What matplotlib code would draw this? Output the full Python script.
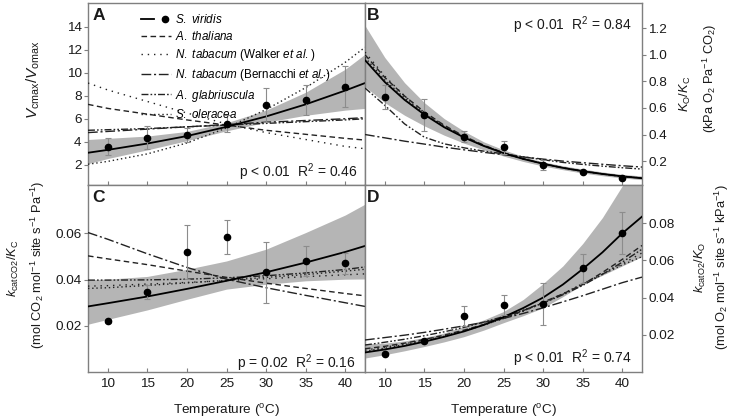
import matplotlib
matplotlib.use("Agg")
import matplotlib.pyplot as plt
from matplotlib.legend_handler import HandlerTuple
from matplotlib.lines import Line2D

plt.rcParams['font.family'] = ['Liberation Sans', 'DejaVu Sans']
plt.rcParams['mathtext.fontset'] = 'custom'
plt.rcParams['mathtext.rm'] = 'Liberation Sans'
plt.rcParams['mathtext.it'] = 'Liberation Sans:italic'
plt.rcParams['mathtext.bf'] = 'Liberation Sans:bold'

# temperatures
temp = [10, 15, 20, 25, 30, 35, 40]  # measured points
tfit = [7.5, 10, 15, 20, 25, 30, 35, 40, 42.5]  # curves read every 5 degrees (A, C)
tfine = [7.5, 10, 12.5, 15, 17.5, 20, 22.5, 25, 27.5, 30, 32.5, 35, 37.5, 40, 42.5]  # B, D

# A: Vcmax/Vomax
a_pts = [3.59, 4.35, 4.6, 5.56, 7.2, 7.64, 8.8]
a_err = [0.77, 1.0, 0.6, 0.75, 1.45, 1.3, 1.75]
a_fit = [3.05, 3.3, 3.85, 4.5, 5.3, 6.2, 7.25, 8.45, 9.1]
a_lo = [2.1, 2.55, 3.3, 4.1, 4.95, 5.7, 6.3, 6.75, 6.9]
a_hi = [4.2, 4.3, 4.5, 4.9, 5.65, 6.75, 8.3, 10.3, 11.6]
a_thal = [7.25, 6.9, 6.4, 5.9, 5.45, 5.0, 4.65, 4.3, 4.15]
a_walk = [9.1, 8.5, 7.5, 6.5, 5.55, 4.8, 4.2, 3.6, 3.4]
a_bern = [4.8, 4.9, 5.1, 5.3, 5.5, 5.7, 5.85, 6.0, 6.1]
a_glab = [5.0, 5.05, 5.15, 5.3, 5.45, 5.6, 5.75, 5.9, 6.0]
a_oler = [2.05, 2.3, 2.95, 3.9, 5.2, 6.8, 8.7, 10.9, 12.2]

# B: Ko/Kc
b_pts = [0.685, 0.547, 0.383, 0.303, 0.17, 0.12, 0.074]
b_err = [0.09, 0.12, 0.04, 0.05, 0.035, 0.01, 0.01]
b_fit = [0.96, 0.795, 0.661, 0.55, 0.455, 0.378, 0.314, 0.26, 0.216, 0.18, 0.149, 0.124, 0.103, 0.085, 0.071]
b_lo = [0.76, 0.64, 0.545, 0.465, 0.395, 0.335, 0.285, 0.238, 0.197, 0.163, 0.135, 0.11, 0.09, 0.073, 0.06]
b_hi = [1.22, 0.98, 0.79, 0.64, 0.52, 0.425, 0.345, 0.285, 0.235, 0.195, 0.165, 0.14, 0.118, 0.1, 0.088]
b_thal = [1.0, 0.83, 0.69, 0.57, 0.47, 0.388, 0.32, 0.263, 0.218, 0.181, 0.15, 0.125, 0.104, 0.086, 0.072]
b_walk = [1.02, 0.84, 0.69, 0.565, 0.465, 0.382, 0.316, 0.26, 0.216, 0.179, 0.148, 0.123, 0.102, 0.085, 0.071]
b_bern = [0.40, 0.375, 0.35, 0.328, 0.305, 0.285, 0.266, 0.248, 0.231, 0.215, 0.2, 0.188, 0.176, 0.165, 0.155]
b_glab = [0.75, 0.62, 0.48, 0.38, 0.33, 0.3, 0.275, 0.255, 0.232, 0.21, 0.19, 0.175, 0.162, 0.15, 0.14]
b_oler = [0.98, 0.81, 0.675, 0.555, 0.46, 0.38, 0.315, 0.26, 0.216, 0.18, 0.149, 0.124, 0.103, 0.085, 0.071]

# C: kcatCO2/Kc
c_pts = [0.0221, 0.0347, 0.052, 0.0585, 0.0431, 0.0481, 0.047]
c_err = [0.001, 0.003, 0.0116, 0.0074, 0.0133, 0.0065, 0.0045]
c_fit = [0.0284, 0.0298, 0.0327, 0.036, 0.0395, 0.0432, 0.0474, 0.052, 0.0546]
c_lo = [0.0207, 0.0228, 0.0269, 0.0315, 0.0359, 0.038, 0.0395, 0.0402, 0.0403]
c_hi = [0.040, 0.0402, 0.0414, 0.0445, 0.0481, 0.0532, 0.0604, 0.068, 0.0727]
c_thal = [0.0503, 0.049, 0.0465, 0.0437, 0.041, 0.0385, 0.0362, 0.034, 0.033]
c_walk = [0.0372, 0.0374, 0.0381, 0.0388, 0.0396, 0.0404, 0.0413, 0.0421, 0.0425]
c_bern = [0.0604, 0.0575, 0.0512, 0.0453, 0.0402, 0.0365, 0.0332, 0.030, 0.0284]
c_glab = [0.0398, 0.0398, 0.0399, 0.0402, 0.0408, 0.0417, 0.0429, 0.0444, 0.0455]
c_oler = [0.0362, 0.0365, 0.0375, 0.0386, 0.0397, 0.041, 0.0422, 0.0437, 0.0445]

# D: kcatO2/Ko
d_pts = [0.0098, 0.0164, 0.0302, 0.0361, 0.0366, 0.0558, 0.0746]
d_err = [0.0008, 0.001, 0.0054, 0.0055, 0.0115, 0.0077, 0.0113]
d_fit = [0.0105, 0.0121, 0.014, 0.0163, 0.0189, 0.0218, 0.0253, 0.0295, 0.0344, 0.040, 0.047, 0.0553, 0.0643, 0.0745, 0.0835]
d_lo = [0.0075, 0.0093, 0.0114, 0.0137, 0.0162, 0.019, 0.0225, 0.0265, 0.0303, 0.0345, 0.0405, 0.047, 0.052, 0.057, 0.062]
d_hi = [0.0152, 0.0155, 0.0167, 0.0185, 0.021, 0.0245, 0.028, 0.0325, 0.039, 0.0475, 0.057, 0.069, 0.083, 0.100, 0.118]
d_thal = [0.0125, 0.0138, 0.0155, 0.0175, 0.0198, 0.0225, 0.0255, 0.029, 0.033, 0.0375, 0.042, 0.047, 0.0535, 0.0605, 0.068]
d_walk = [0.0118, 0.0133, 0.0151, 0.0172, 0.0195, 0.0222, 0.0253, 0.0288, 0.0327, 0.037, 0.0418, 0.047, 0.0525, 0.058, 0.064]
d_bern = [0.0172, 0.0185, 0.0198, 0.0213, 0.023, 0.0248, 0.0267, 0.0288, 0.0315, 0.0345, 0.0377, 0.041, 0.0445, 0.048, 0.051]
d_glab = [0.0145, 0.016, 0.0176, 0.0195, 0.0216, 0.024, 0.0268, 0.0298, 0.0332, 0.037, 0.0415, 0.0465, 0.0525, 0.059, 0.066]
d_oler = [0.0112, 0.0128, 0.0147, 0.0168, 0.0192, 0.022, 0.0252, 0.0288, 0.0328, 0.0372, 0.042, 0.0475, 0.0525, 0.0575, 0.062]

names = [r"$\mathit{S.\ viridis}$",
         r"$\mathit{A.\ thaliana}$",
         r"$\mathit{N.\ tabacum}$ (Walker $\mathit{et\ al.}$)",
         r"$\mathit{N.\ tabacum}$ (Bernacchi $\mathit{et\ al.}$)",
         r"$\mathit{A.\ glabriuscula}$",
         r"$\mathit{S.\ oleracea}$"]
dashes = [(0, (4, 2.5)), (0, (1, 3.5)), (0, (7, 2, 1.5, 2)), (0, (5, 1.5, 1.2, 1.5, 1.2, 1.5)), (0, (1, 2))]
gray = '#7f7f7f'
ink = '#1a1a1a'

fig = plt.figure(figsize=(7.32, 4.19), dpi=100)
L, M, R = 88 / 732, 365 / 732, 642 / 732
T, MID, B = 1 - 3 / 419, 1 - 185 / 419, 1 - 372 / 419
axA = fig.add_axes([L, MID, M - L, T - MID])
axB = fig.add_axes([M, MID, R - M, T - MID])
axC = fig.add_axes([L, B, M - L, MID - B])
axD = fig.add_axes([M, B, R - M, MID - B])


def panel(ax, tx, pts, err, fit, lo, hi, others):
    ax.fill_between(tx, lo, hi, color='#b5b5b5', lw=0, zorder=1)
    for ys, ls in zip(others, dashes):
        ax.plot(tx, ys, color='#222222', lw=1.0, ls=ls, zorder=3)
    ax.plot(tx, fit, color='black', lw=1.3, zorder=4)
    ax.errorbar(temp, pts, yerr=err, fmt='o', color='black', ms=4.5, ecolor='#8c8c8c',
                elinewidth=0.8, capsize=2.5, capthick=0.8, zorder=5)
    ax.set_xlim(7.5, 42.5)
    ax.set_xticks(temp)
    for s in ax.spines.values():
        s.set_color(gray)
        s.set_linewidth(1.0)
    ax.tick_params(axis='x', direction='in', length=3, color=gray, labelsize=9.7, labelcolor=ink, pad=4)
    ax.tick_params(axis='y', direction='out', length=3, color=gray, labelsize=9.7, labelcolor=ink, pad=1.5)


panel(axA, tfit, a_pts, a_err, a_fit, a_lo, a_hi, [a_thal, a_walk, a_bern, a_glab, a_oler])
panel(axB, tfine, b_pts, b_err, b_fit, b_lo, b_hi, [b_thal, b_walk, b_bern, b_glab, b_oler])
panel(axC, tfit, c_pts, c_err, c_fit, c_lo, c_hi, [c_thal, c_walk, c_bern, c_glab, c_oler])
panel(axD, tfine, d_pts, d_err, d_fit, d_lo, d_hi, [d_thal, d_walk, d_bern, d_glab, d_oler])

axA.set_ylim(0.25, 16.05)
axA.set_yticks([2, 4, 6, 8, 10, 12, 14])
axB.set_ylim(0.02, 1.39)
axB.set_yticks([0.2, 0.4, 0.6, 0.8, 1.0, 1.2])
axB.set_yticklabels(['0.2', '0.4', '0.6', '0.8', '1.0', '1.2'])
axC.set_ylim(0.0, 0.081)
axC.set_yticks([0.02, 0.04, 0.06])
axC.set_yticklabels(['0.02', '0.04', '0.06'])
axD.set_ylim(0.0, 0.1005)
axD.set_yticks([0.02, 0.04, 0.06, 0.08])
axD.set_yticklabels(['0.02', '0.04', '0.06', '0.08'])
for ax in (axB, axD):
    ax.yaxis.tick_right()
for ax in (axA, axB):
    ax.tick_params(axis='x', labelbottom=False)

# panel letters
for ax, lab, x0 in ((axA, 'A', 0.018), (axB, 'B', 0.008), (axC, 'C', 0.016), (axD, 'D', 0.008)):
    ax.text(x0, 0.975, lab, transform=ax.transAxes, fontsize=12.5, fontweight='bold',
            va='top', ha='left', color=ink)

# stats
axA.text(0.971, 0.071, r"p < 0.01  R$^2$ = 0.46", transform=axA.transAxes, ha='right', va='center', fontsize=10, color=ink)
axB.text(0.964, 0.88, r"p < 0.01  R$^2$ = 0.84", transform=axB.transAxes, ha='right', va='center', fontsize=10, color=ink)
axC.text(0.967, 0.048, r"p = 0.02  R$^2$ = 0.16", transform=axC.transAxes, ha='right', va='center', fontsize=10, color=ink)
axD.text(0.964, 0.075, r"p < 0.01  R$^2$ = 0.74", transform=axD.transAxes, ha='right', va='center', fontsize=10, color=ink)

# legend
h_line = Line2D([], [], color='black', lw=1.3)
h_dot = Line2D([], [], color='black', marker='o', ms=4.5, ls='none')
handles = [(h_line, h_dot)] + [Line2D([], [], color='#222222', lw=1.0, ls=ls) for ls in dashes]
axA.legend(handles, names, loc='upper left', bbox_to_anchor=(0.165, 0.985), frameon=False,
           fontsize=8.4, handlelength=2.6, handletextpad=0.35, labelspacing=0.36,
           borderaxespad=0.2, handler_map={tuple: HandlerTuple(ndivide=None, pad=0.4)})

# axis labels
fs_lab = 9.3
fig.text(33 / 732, 1 - 80 / 419, r"$V_{\rm cmax}/V_{\rm omax}$", rotation=90, ha='center', va='center', fontsize=11, color=ink)
fig.text(685 / 732, 1 - 94 / 419, r"$K_{\rm O}/K_{\rm C}$", rotation=90, ha='center', va='center', fontsize=fs_lab, color=ink)
fig.text(710 / 732, 1 - 78 / 419, r"(kPa O$_2$ Pa$^{-1}$ CO$_2$)", rotation=90, ha='center', va='center', fontsize=fs_lab, color=ink)
fig.text(13 / 732, 1 - 268 / 419, r"$k_{\rm catCO2}/K_{\rm C}$", rotation=90, ha='center', va='center', fontsize=fs_lab, color=ink)
fig.text(38 / 732, 1 - 265 / 419, r"(mol CO$_2$ mol$^{-1}$ site s$^{-1}$ Pa$^{-1}$)", rotation=90, ha='center', va='center', fontsize=fs_lab, color=ink)
fig.text(700 / 732, 1 - 267 / 419, r"$k_{\rm catO2}/K_{\rm O}$", rotation=90, ha='center', va='center', fontsize=fs_lab, color=ink)
fig.text(722 / 732, 1 - 267 / 419, r"(mol O$_2$ mol$^{-1}$ site s$^{-1}$ kPa$^{-1}$)", rotation=90, ha='center', va='center', fontsize=fs_lab, color=ink)
axC.set_xlabel(r"Temperature ($^{\rm o}$C)", fontsize=9.7, color=ink, labelpad=9)
axD.set_xlabel(r"Temperature ($^{\rm o}$C)", fontsize=9.7, color=ink, labelpad=9)

fig.savefig('out.png', dpi=100)
